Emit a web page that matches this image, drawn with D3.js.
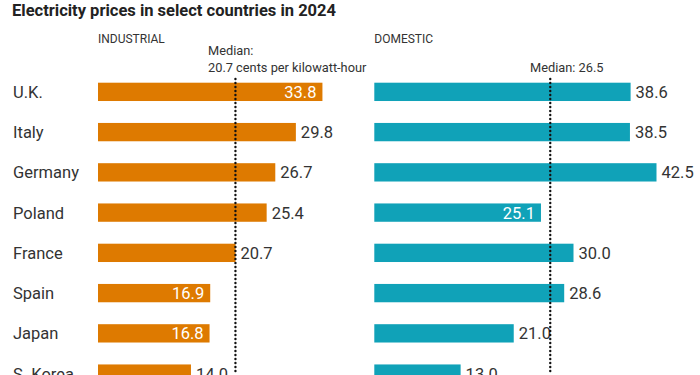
<!DOCTYPE html>
<html>
<head>
<meta charset="utf-8">
<script src="https://cdn.jsdelivr.net/npm/d3@7"></script>
<style>
  body { margin: 0; background: #fff; }
  svg { display: block; font-family: "Roboto", sans-serif; }
</style>
</head>
<body>
<svg width="700" height="375"></svg>
<script>
const countries = ['U.K.', 'Italy', 'Germany', 'Poland', 'France', 'Spain', 'Japan', 'S. Korea'];
const industrial = [33.8, 29.8, 26.7, 25.4, 20.7, 16.9, 16.8, 14.0];
const domestic = [38.6, 38.5, 42.5, 25.1, 30.0, 28.6, 21.0, 13.0];
const industrialMedian = 20.7;
const domesticMedian = 26.5;
// labels drawn inside the bar (white) so they don't clash with the median line
const industrialInside = ['U.K.', 'Spain', 'Japan'];
const domesticInside = ['Poland'];

const svg = d3.select('svg');

const y = d3.scaleBand()
  .domain(countries)
  .range([82.7, 82.7 + 40.25 * (countries.length - 0.545)])
  .paddingInner(0.545)
  .paddingOuter(0);

svg.append('text')
  .attr('x', 12).attr('y', 16)
  .attr('font-size', 16.5).attr('font-weight', 'bold').attr('fill', '#222')
  .text('Electricity prices in select countries in 2024');

svg.selectAll('.country')
  .data(countries)
  .enter()
  .append('text')
  .attr('class', 'country')
  .attr('x', 13)
  .attr('y', d => y(d) + y.bandwidth() / 2)
  .attr('dy', '0.36em')
  .attr('font-size', 16.5)
  .attr('fill', '#333')
  .text(d => d);

function panel(x0, values, median, inside, color, title, medianLines, medianX) {
  const x = d3.scaleLinear().domain([0, 1]).range([x0, x0 + 6.64]);
  const rows = countries.map((c, i) => ({country: c, value: values[i]}));
  const g = svg.append('g');

  g.append('text')
    .attr('x', x0).attr('y', 43)
    .attr('font-size', 12).attr('fill', '#333')
    .text(title);

  g.selectAll('.bar')
    .data(rows)
    .enter()
    .append('rect')
    .attr('class', 'bar')
    .attr('x', x(0))
    .attr('y', d => y(d.country))
    .attr('width', d => x(d.value) - x(0))
    .attr('height', y.bandwidth())
    .attr('fill', color);

  g.selectAll('.val')
    .data(rows)
    .enter()
    .append('text')
    .attr('class', 'val')
    .attr('x', d => inside.includes(d.country) ? x(d.value) - 6 : x(d.value) + 5)
    .attr('y', d => y(d.country) + y.bandwidth() / 2)
    .attr('dy', '0.36em')
    .attr('text-anchor', d => inside.includes(d.country) ? 'end' : 'start')
    .attr('font-size', 16.5)
    .attr('fill', d => inside.includes(d.country) ? '#fff' : '#333')
    .text(d => d3.format('.1f')(d.value));

  g.append('line')
    .attr('x1', x(median)).attr('x2', x(median))
    .attr('y1', 79).attr('y2', 375)
    .attr('stroke', '#111')
    .attr('stroke-width', 2.4)
    .attr('stroke-linecap', 'round')
    .attr('stroke-dasharray', '0,4');

  const t = g.append('text')
    .attr('x', medianX)
    .attr('font-size', 12.8).attr('fill', '#333');
  medianLines.forEach((s, i) => {
    t.append('tspan')
      .attr('x', medianX)
      .attr('y', 72 - (medianLines.length - 1 - i) * 17)
      .text(s);
  });
}

panel(98, industrial, industrialMedian, industrialInside, '#de7a00', 'INDUSTRIAL',
  ['Median:', '20.7 cents per kilowatt-hour'], 208);
panel(374.3, domestic, domesticMedian, domesticInside, '#10a2b8', 'DOMESTIC',
  ['Median: 26.5'], 530);
</script>
</body>
</html>
